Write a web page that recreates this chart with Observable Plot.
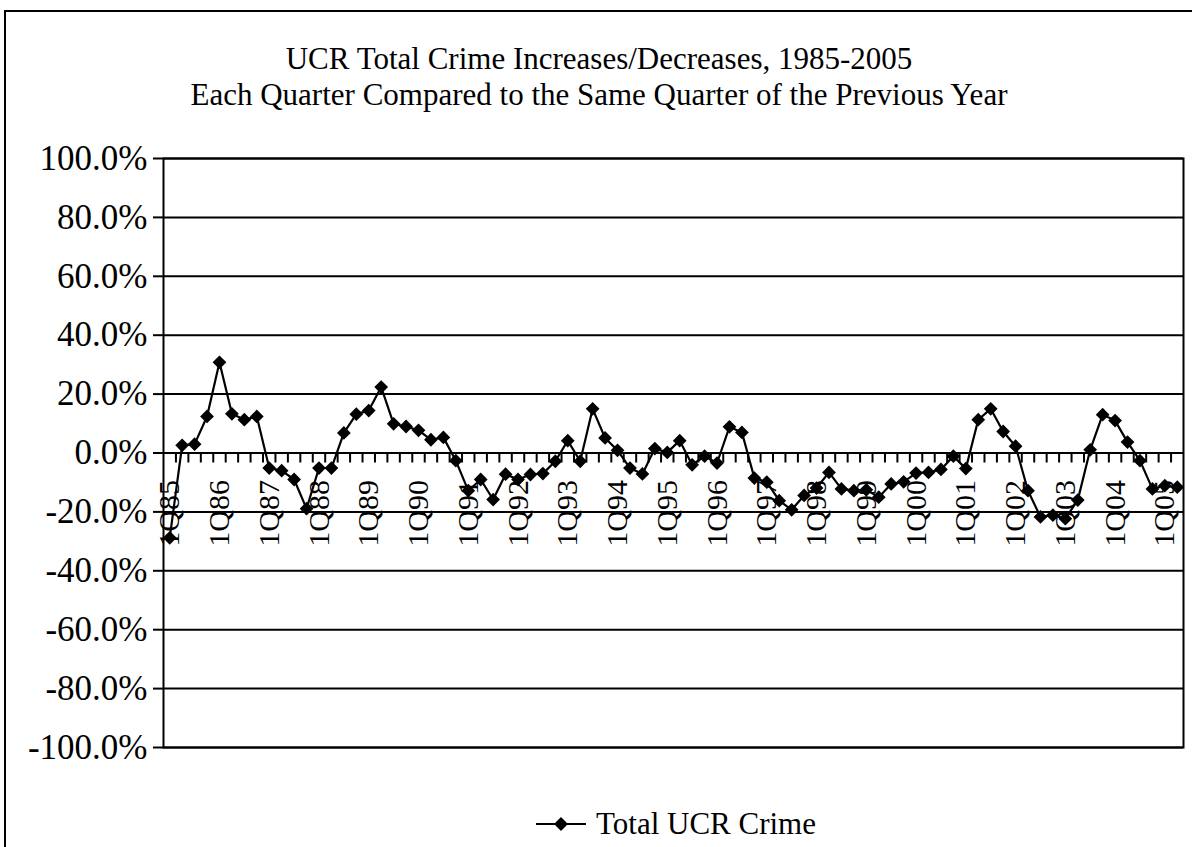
<!DOCTYPE html>
<html><head><meta charset="utf-8">
<script src="https://cdn.jsdelivr.net/npm/d3@7"></script>
<script src="https://cdn.jsdelivr.net/npm/@observablehq/plot@0.6"></script>
<style>
html,body{margin:0;padding:0;overflow:hidden;background:#fff;width:1192px;height:847px;}
body{font-family:"Liberation Serif","Times New Roman",serif;color:#000;}
#frame{position:absolute;left:4px;top:10px;width:1210px;height:870px;border:2px solid #000;box-sizing:border-box;}
#title{position:absolute;left:0;top:41px;width:1198px;text-align:center;font-size:31px;line-height:36px;}
#chart{position:absolute;left:0;top:120px;}
#legend{position:absolute;left:534px;top:806px;font-size:31px;line-height:36px;display:flex;align-items:center;white-space:nowrap;}
#legend svg{margin-right:8px;}
#chart svg [aria-label^="y-axis"] line, #chart svg [aria-label="y-axis tick"] path{stroke-width:2px;}
</style>
</head><body>
<div id="frame"></div>
<div id="title">UCR Total Crime Increases/Decreases, 1985-2005<br>Each Quarter Compared to the Same Quarter of the Previous Year</div>
<div id="chart"></div>
<div id="legend"></div>
<script>
const quarters = [
"1Q85","2Q85","3Q85","4Q85","1Q86","2Q86","3Q86","4Q86","1Q87","2Q87","3Q87","4Q87",
"1Q88","2Q88","3Q88","4Q88","1Q89","2Q89","3Q89","4Q89","1Q90","2Q90","3Q90","4Q90",
"1Q91","2Q91","3Q91","4Q91","1Q92","2Q92","3Q92","4Q92","1Q93","2Q93","3Q93","4Q93",
"1Q94","2Q94","3Q94","4Q94","1Q95","2Q95","3Q95","4Q95","1Q96","2Q96","3Q96","4Q96",
"1Q97","2Q97","3Q97","4Q97","1Q98","2Q98","3Q98","4Q98","1Q99","2Q99","3Q99","4Q99",
"1Q00","2Q00","3Q00","4Q00","1Q01","2Q01","3Q01","4Q01","1Q02","2Q02","3Q02","4Q02",
"1Q03","2Q03","3Q03","4Q03","1Q04","2Q04","3Q04","4Q04","1Q05","2Q05"];
const totalCrime = [
-28.8, 2.6, 3.0, 12.4, 30.8, 13.3, 11.3, 12.4, -5.1, -6.0, -9.0, -18.9,
-5.1, -5.1, 6.8, 13.2, 14.4, 22.4, 9.9, 9.0, 7.7, 4.5, 5.3, -2.6,
-12.8, -9.0, -15.8, -7.2, -9.0, -7.3, -7.0, -2.8, 4.2, -2.8, 15.0, 5.1,
0.9, -5.1, -7.1, 1.5, 0.2, 4.2, -4.0, -1.1, -3.4, 8.9, 7.0, -8.5,
-9.9, -16.2, -19.3, -14.4, -11.9, -6.6, -12.2, -12.8, -12.5, -15.0, -10.5, -9.8,
-6.8, -6.6, -5.6, -1.1, -5.3, 11.3, 15.0, 7.3, 2.3, -12.8, -21.7, -21.1,
-22.3, -16.0, 1.1, 13.0, 11.0, 3.7, -2.6, -12.2, -11.1, -11.6];
const tickLabels = ["1Q85","1Q86","1Q87","1Q88","1Q89","1Q90","1Q91","1Q92","1Q93","1Q94","1Q95",
"1Q96","1Q97","1Q98","1Q99","1Q00","1Q01","1Q02","1Q03","1Q04","1Q05"];
const yTicks = [-100,-80,-60,-40,-20,0,20,40,60,80,100];
const seriesName = "Total UCR Crime";

const data = quarters.map((q,i)=>({i, q, v: totalCrime[i]}));
const boundaries = quarters.slice(1).map((q,i)=>i+0.5);
const labelData = tickLabels.map(t=>({t, i: quarters.indexOf(t)}));

const chart = Plot.plot({
  width: 1192, height: 660,
  marginLeft: 163, marginRight: 9, marginTop: 38, marginBottom: 33,
  style: {fontFamily: '"Liberation Serif","Times New Roman",serif', fontSize: "35px", color: "#000", background: "transparent", overflow: "visible"},
  x: {domain: [-0.5, quarters.length - 0.5], axis: null},
  y: {domain: [-100, 100], ticks: yTicks, tickFormat: d => d.toFixed(1) + "%", tickSize: 10, tickPadding: 6, label: null},
  marks: [
    Plot.ruleY(yTicks, {stroke: "#000", strokeWidth: 2}),
    Plot.frame({stroke: "#000", strokeWidth: 2}),
    Plot.ruleX(boundaries, {x: d => d, y1: 0, y2: -3.4, stroke: "#000", strokeWidth: 2}),
    Plot.text(labelData, {x: "i", y: () => 0, text: "t", rotate: -90, textAnchor: "end", dy: 27, fontSize: 30, fill: "#000"}),
    Plot.line(data, {x: "i", y: "v", stroke: "#000", strokeWidth: 2.2}),
    Plot.dot(data, {x: "i", y: "v", symbol: "diamond2", r: 6.2, fill: "#000", stroke: "none"})
  ]
});
document.getElementById("chart").appendChild(chart);

const leg = document.getElementById("legend");
leg.innerHTML = `<svg width="54" height="20" viewBox="0 0 54 20"><line x1="2" y1="10" x2="52" y2="10" stroke="#000" stroke-width="2.2"/><path d="M27,3L34,10L27,17L20,10Z" fill="#000"/></svg><span></span>`;
leg.querySelector("span").textContent = seriesName;
</script>
</body></html>
